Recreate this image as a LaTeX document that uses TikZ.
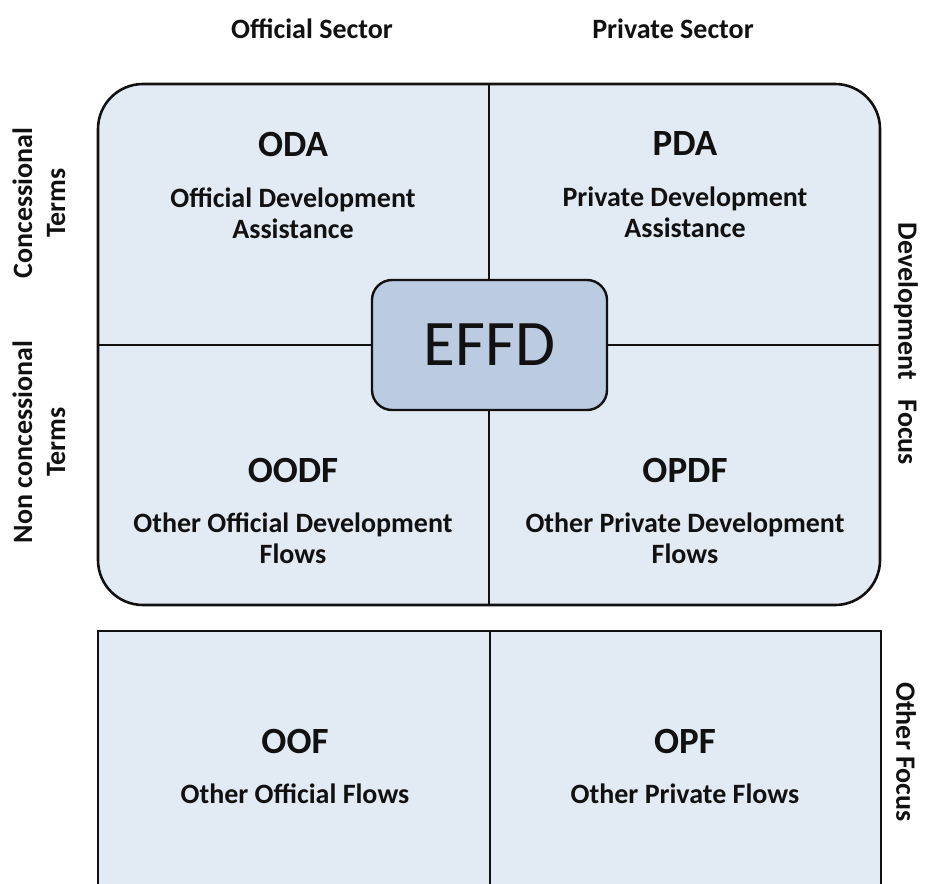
\documentclass[tikz,border=0pt]{standalone}
\usepackage{fontspec}
\setmainfont{Carlito}
\definecolor{cellfill}{HTML}{E2EAF3}
\definecolor{effdfill}{HTML}{BBCBE1}
\definecolor{ink}{HTML}{111111}
\begin{document}
\begin{tikzpicture}[x=1bp,y=-1bp,
  frame/.style={draw=ink, line width=2.6bp, fill=cellfill, inner sep=0pt},
  divider/.style={draw=ink, line width=2bp},
  title/.style={font=\bfseries\fontsize{37bp}{40bp}\selectfont, anchor=base, inner sep=0pt, text=ink},
  sub/.style={font=\bfseries\fontsize{28bp}{31bp}\selectfont, anchor=base, align=center, inner sep=0pt, text=ink},
  side/.style={font=\bfseries\fontsize{28bp}{33bp}\selectfont, align=center, inner sep=0pt, text=ink},
  effd/.style={draw=ink, line width=2.4bp, fill=effdfill, rounded corners=20bp, minimum width=235bp, minimum height=130bp, inner sep=0pt, font=\fontsize{65bp}{70bp}\selectfont, text=ink}]
\useasboundingbox (0,0) rectangle (926,884);
\clip (0,0) rectangle (926,884);
% upper box
\node[frame, rounded corners=45bp, minimum width=782bp, minimum height=521bp] (upper) at (489,344.5) {};
\draw[divider] (upper.north) -- (upper.south);
\draw[divider] (upper.west) -- (upper.east);
\node[effd] (effd) at (489.5,345) {EFFD};
% lower box (open at the bottom edge)
\node[frame, minimum width=783bp, minimum height=320bp] (lower) at (489.5,791) {};
\draw[divider] (lower.north) -- (lower.south);
% column headings
\node[side, anchor=base] (offsec) at (312,38) {Official Sector};
\node[side, anchor=base] (privsec) at (673,38) {Private Sector};
% row headings
\node[side, rotate=90] (conc) at (39,203) {Concessional\\Terms};
\node[side, rotate=90] (nonconc) at (39,442) {Non concessional\\Terms};
\node[side, rotate=-90] (devfocus) at (906,344) {Development\hspace{0.7em}Focus};
\node[side, rotate=-90] (othfocus) at (906,752) {Other Focus};
% cells (two-line texts: base anchor is the last line's baseline)
\node[title] (oda) at (293,156) {ODA};
\node[sub] (odatxt) at (293,238) {Official Development\\Assistance};
\node[title] (pda) at (685,155) {PDA};
\node[sub] (pdatxt) at (685,237) {Private Development\\Assistance};
\node[title] (oodf) at (293,482) {OODF};
\node[sub] (oodftxt) at (293,563) {Other Official Development\\Flows};
\node[title] (opdf) at (685,482) {OPDF};
\node[sub] (opdftxt) at (685,563) {Other Private Development\\Flows};
\node[title] (oof) at (295,753) {OOF};
\node[sub] (ooftxt) at (295,803) {Other Official Flows};
\node[title] (opf) at (685,753) {OPF};
\node[sub] (opftxt) at (685,803) {Other Private Flows};
\end{tikzpicture}
\end{document}
